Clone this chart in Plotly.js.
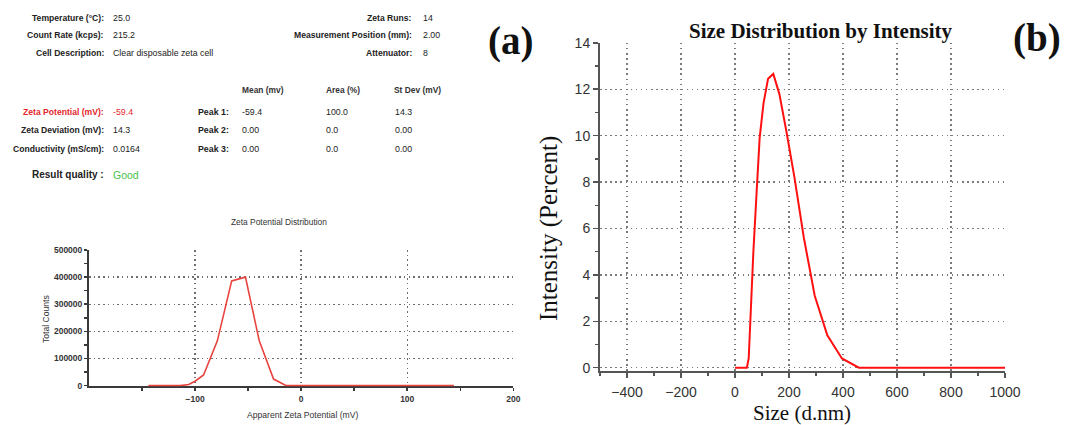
<!DOCTYPE html>
<html>
<head>
<meta charset="utf-8">
<script src="https://cdn.plot.ly/plotly-3.0.1.min.js"></script>
<style>
  html, body { margin: 0; padding: 0; background: #ffffff; }
  #chart { width: 1067px; height: 425px; }
</style>
</head>
<body>
<div id="chart"></div>
<script>
// ---------------- DATA ----------------
// (a) Zeta potential distribution
const zetaPotential = [-144, -114, -106, -100, -92, -79, -65.5, -52.5, -39.5, -26, -14, 144];
const zetaCounts    = [0, 0, 4000, 16000, 39000, 165000, 386000, 400000, 165000, 24000, 0, 0];
const zetaYTicks    = [0, 100000, 200000, 300000, 400000, 500000];
const zetaXTicks    = [-100, 0, 100, 200];

// (b) Size distribution by intensity
const sizeNm       = [0, 43.82, 50.75, 58.77, 68.06, 78.82, 91.28, 105.7, 122.4, 141.8, 164.2, 190.1, 220.2, 255.0, 295.3, 342.0, 396.1, 458.7, 1000];
const intensityPct = [0, 0, 0.4, 2.6, 5.0, 7.3, 9.9, 11.4, 12.45, 12.66, 11.8, 10.2, 8.2, 5.6, 3.1, 1.4, 0.4, 0, 0];
const sizeXTicks   = [-400, -200, 0, 200, 400, 600, 800, 1000];
const sizeYTicks   = [0, 2, 4, 6, 8, 10, 12, 14];

// Measurement report text
const infoLeftLabels  = ["Temperature (°C):", "Count Rate (kcps):", "Cell Description:"];
const infoLeftValues  = ["25.0", "215.2", "Clear disposable zeta cell"];
const infoRightLabels = ["Zeta Runs:", "Measurement Position (mm):", "Attenuator:"];
const infoRightValues = ["14", "2.00", "8"];
const resultLabels    = ["Zeta Potential (mV):", "Zeta Deviation (mV):", "Conductivity (mS/cm):"];
const resultValues    = ["-59.4", "14.3", "0.0164"];
const peakHeaders     = ["Mean (mv)", "Area (%)", "St Dev (mV)"];
const peakNames       = ["Peak 1:", "Peak 2:", "Peak 3:"];
const peakMean        = ["-59.4", "0.00", "0.00"];
const peakArea        = ["100.0", "0.0", "0.0"];
const peakStDev       = ["14.3", "0.00", "0.00"];

// ---------------- LAYOUT HELPERS ----------------
const W = 1067, H = 425;
const fx = x => x / W;
const fy = y => 1 - y / H;
const SANS = "Liberation Sans, Arial, Helvetica, sans-serif";
const SERIF = "Liberation Serif, 'Times New Roman', Times, serif";

const annotations = [];
function txt(text, x, y, opt) {
  opt = opt || {};
  annotations.push({
    text: text, xref: "paper", yref: "paper",
    x: fx(x), y: fy(y), showarrow: false,
    xanchor: opt.anchor || "left", yanchor: "middle",
    textangle: opt.angle || 0,
    font: { family: opt.family || SANS, size: opt.size || 9, color: opt.color || "#222222",
            weight: opt.weight || "normal" }
  });
}

// report rows
const rowY = [18.3, 35, 53.3];
infoLeftLabels.forEach((t, i) => txt(t, 106, rowY[i], { anchor: "right", weight: "bold", size: 8.6 }));
infoLeftValues.forEach((t, i) => txt(t, 111, rowY[i], { size: 8.8 }));
infoRightLabels.forEach((t, i) => txt(t, 414, rowY[i], { anchor: "right", weight: "bold", size: 8.6 }));
infoRightValues.forEach((t, i) => txt(t, 421, rowY[i], { size: 8.8 }));

const colX = [240, 324, 392];
peakHeaders.forEach((t, i) => txt(t, colX[i], 90, { weight: "bold", size: 8.4, color: "#333" }));
const tblY = [111.7, 130, 149];
resultLabels.forEach((t, i) => txt(t, 106, tblY[i], { anchor: "right", weight: "bold", size: 8.6,
  color: i === 0 ? "#e3262c" : "#222222" }));
resultValues.forEach((t, i) => txt(t, 111, tblY[i], { size: 8.8, color: i === 0 ? "#e3262c" : "#222222" }));
peakNames.forEach((t, i) => txt(t, 231, tblY[i], { anchor: "right", weight: "bold", size: 8.8 }));
peakMean.forEach((t, i) => txt(t, colX[0], tblY[i], { size: 8.8 }));
peakArea.forEach((t, i) => txt(t, colX[1], tblY[i], { size: 8.8 }));
peakStDev.forEach((t, i) => txt(t, colX[2] + 1, tblY[i], { size: 8.8 }));
txt("Result quality :", 106, 174, { anchor: "right", weight: "bold", size: 10 });
txt("Good", 111, 175, { size: 10.5, color: "#4cbf4c" });

// chart (a) texts
txt("Zeta Potential Distribution", 279, 222, { anchor: "center", size: 8.4, color: "#333" });
txt("Apparent Zeta Potential (mV)", 302, 414.5, { anchor: "center", size: 8.6, color: "#333" });
txt("Total Counts", 46, 319, { anchor: "center", size: 8.6, color: "#333", angle: -90 });
txt("(a)", 510, 41, { anchor: "center", size: 39, family: SERIF, color: "#111", weight: "bold" });

// chart (b) texts
txt("Size Distribution by Intensity", 821, 31, { anchor: "center", size: 21, family: SERIF, color: "#111", weight: "bold" });
txt("Size (d.nm)", 802, 413, { anchor: "center", size: 21, family: SERIF, color: "#111" });
txt("Intensity (Percent)", 549, 229, { anchor: "center", size: 25, family: SERIF, color: "#111", angle: -90 });
txt("(b)", 1037, 38, { anchor: "center", size: 39, family: SERIF, color: "#111", weight: "bold" });

// ---------------- TRACES ----------------
const traces = [
  { x: zetaPotential, y: zetaCounts, type: "scatter", mode: "lines",
    line: { color: "#e8443f", width: 1.6 }, xaxis: "x", yaxis: "y", hoverinfo: "none" },
  { x: sizeNm, y: intensityPct, type: "scatter", mode: "lines",
    line: { color: "#ff1010", width: 2 }, xaxis: "x2", yaxis: "y2", hoverinfo: "none" }
];

const axA = {
  showline: true, linecolor: "#3a3a3a", linewidth: 2, zeroline: false, layer: "below traces",
  showgrid: true, gridcolor: "#6e6e6e", gridwidth: 1.4, griddash: "1.5px,3.2px",
  ticks: "outside", ticklen: 3, tickwidth: 1.5, tickcolor: "#3a3a3a",
  tickfont: { family: SANS, size: 8.5, color: "#333", weight: "bold" },
  fixedrange: true
};
const axB = {
  showline: true, linecolor: "#555555", linewidth: 2, zeroline: false, layer: "below traces",
  showgrid: true, gridcolor: "#7a7a7a", gridwidth: 1.4, griddash: "1.5px,3.6px",
  ticks: "outside", ticklen: 5, tickwidth: 1.5, tickcolor: "#555555",
  tickfont: { family: SANS, size: 14, color: "#333" },
  fixedrange: true
};

const layout = {
  width: W, height: H,
  margin: { l: 0, r: 0, t: 0, b: 0 },
  paper_bgcolor: "#ffffff", plot_bgcolor: "rgba(0,0,0,0)",
  showlegend: false,
  xaxis: Object.assign({}, axA, {
    domain: [fx(89), fx(513.3)], anchor: "y", range: [-200, 200],
    tickmode: "array", tickvals: zetaXTicks,
    minor: { tickvals: [-150, -50, 50, 150], ticks: "outside", ticklen: 3, tickcolor: "#3a3a3a", showgrid: false }
  }),
  yaxis: Object.assign({}, axA, {
    domain: [fy(386.4), fy(250)], anchor: "x", range: [-3000, 500000],
    tickmode: "array", tickvals: zetaYTicks, tickformat: "d",
    minor: { tickvals: [50000, 150000, 250000, 350000, 450000], ticks: "outside", ticklen: 3, tickcolor: "#3a3a3a", showgrid: false }
  }),
  xaxis2: Object.assign({}, axB, {
    domain: [fx(600), fx(1005)], anchor: "y2", range: [-500, 1000],
    tickmode: "array", tickvals: sizeXTicks, ticklabelstandoff: 3,
    minor: { dtick: 100, tick0: 0, ticks: "outside", ticklen: 3, tickcolor: "#555555", showgrid: false }
  }),
  yaxis2: Object.assign({}, axB, {
    domain: [fy(370.5), fy(42.8)], anchor: "x2", range: [-0.12, 14],
    tickmode: "array", tickvals: sizeYTicks,
    minor: { dtick: 1, tick0: 0, ticks: "outside", ticklen: 3, tickcolor: "#555555", showgrid: false }
  }),
  annotations: annotations
};

Plotly.newPlot("chart", traces, layout, { displayModeBar: false, staticPlot: true });
</script>
</body>
</html>
